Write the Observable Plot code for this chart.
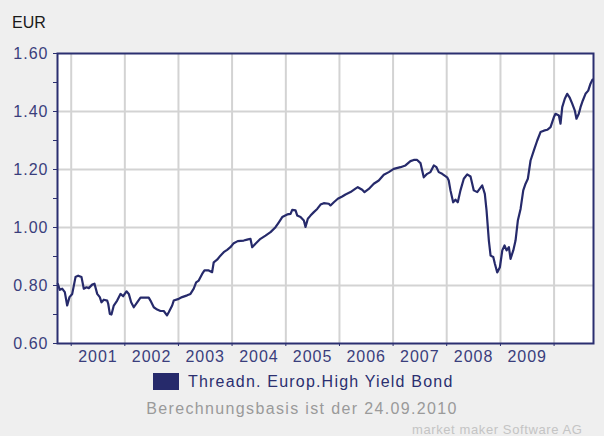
<!DOCTYPE html>
<html><head><meta charset="utf-8">
<script src="https://cdn.jsdelivr.net/npm/d3@7"></script>
<script src="https://cdn.jsdelivr.net/npm/@observablehq/plot@0.6"></script>
<style>
body{margin:0;background:#efefef;font-family:"Liberation Sans",Arial,sans-serif;}
#wrap{position:relative;width:604px;height:436px;overflow:hidden;background:#efefef;}
#chart{position:absolute;left:0;top:0;}
.t{position:absolute;white-space:nowrap;}
#eur{left:12px;top:15px;font-size:16px;line-height:16px;color:#1a1a1a;}
#legsw{left:153px;top:373px;width:26px;height:17px;background:#262a6b;}
#legtx{left:188px;top:374px;font-size:16px;line-height:16px;color:#2b2f70;letter-spacing:1.2px;}
#cap{left:0;width:604px;text-align:center;top:400.5px;font-size:16px;line-height:16px;color:#9a9a9a;letter-spacing:1.35px;}
#mm{left:412px;top:423px;font-size:13px;line-height:13px;color:#c4c4c4;letter-spacing:0.6px;}
</style></head>
<body>
<div id="wrap">
<div id="chart"></div>
<div class="t" id="eur">EUR</div>
<div class="t" id="legsw"></div>
<div class="t" id="legtx">Threadn. Europ.High Yield Bond</div>
<div class="t" id="cap">Berechnungsbasis ist der 24.09.2010</div>
<div class="t" id="mm">market maker Software AG</div>
</div>
<script>
// decimal years
const times = [
2000.750,2000.788,2000.832,2000.881,2000.925,2000.968,2001.019,2001.080,2001.130,2001.192,
2001.235,2001.285,2001.328,2001.391,2001.434,2001.485,2001.533,2001.565,2001.608,2001.671,
2001.690,2001.720,2001.751,2001.794,2001.857,2001.919,2001.969,2002.031,2002.074,2002.118,
2002.167,2002.230,2002.292,2002.446,2002.478,2002.540,2002.603,2002.665,2002.726,2002.786,
2002.819,2002.883,2002.912,2003.006,2003.069,2003.162,2003.224,2003.285,2003.330,2003.378,
2003.442,2003.485,2003.565,2003.628,2003.658,2003.721,2003.783,2003.844,2003.908,2003.969,
2004.031,2004.105,2004.217,2004.280,2004.342,2004.374,2004.435,2004.528,2004.622,2004.715,
2004.808,2004.870,2004.933,2005.026,2005.088,2005.119,2005.181,2005.213,2005.274,2005.336,
2005.367,2005.410,2005.460,2005.522,2005.585,2005.647,2005.708,2005.801,2005.833,2005.895,
2005.969,2006.051,2006.113,2006.206,2006.299,2006.342,2006.424,2006.467,2006.547,2006.640,
2006.733,2006.827,2006.920,2007.013,2007.138,2007.231,2007.324,2007.386,2007.449,2007.511,
2007.572,2007.636,2007.697,2007.759,2007.809,2007.852,2007.915,2008.008,2008.038,2008.070,
2008.120,2008.163,2008.206,2008.256,2008.318,2008.381,2008.443,2008.504,2008.568,2008.661,
2008.709,2008.741,2008.784,2008.816,2008.866,2008.896,2008.940,2008.989,2009.034,2009.076,
2009.114,2009.157,2009.188,2009.239,2009.281,2009.324,2009.375,2009.425,2009.468,2009.511,
2009.561,2009.623,2009.686,2009.747,2009.809,2009.872,2009.934,2009.995,2010.027,2010.089,
2010.120,2010.152,2010.200,2010.245,2010.288,2010.338,2010.387,2010.417,2010.461,2010.493,
2010.536,2010.586,2010.637,2010.679,2010.717
];
const values = [
0.806,0.785,0.789,0.777,0.731,0.760,0.771,0.829,0.834,0.829,
0.789,0.794,0.791,0.803,0.806,0.771,0.760,0.742,0.751,0.748,
0.737,0.702,0.700,0.731,0.748,0.771,0.763,0.780,0.771,0.742,
0.725,0.742,0.758,0.758,0.748,0.725,0.717,0.712,0.712,0.697,
0.708,0.731,0.748,0.754,0.760,0.766,0.771,0.789,0.811,0.817,
0.840,0.852,0.852,0.846,0.880,0.889,0.903,0.915,0.923,0.932,
0.946,0.953,0.955,0.958,0.961,0.932,0.944,0.961,0.972,0.984,
1.001,1.018,1.036,1.045,1.047,1.061,1.059,1.041,1.036,1.024,
1.002,1.030,1.041,1.053,1.064,1.079,1.084,1.082,1.076,1.087,
1.099,1.107,1.114,1.122,1.134,1.139,1.130,1.122,1.133,1.151,
1.162,1.182,1.191,1.202,1.208,1.214,1.229,1.233,1.233,1.222,
1.173,1.185,1.191,1.214,1.208,1.191,1.185,1.173,1.162,1.128,
1.087,1.096,1.087,1.128,1.168,1.183,1.176,1.128,1.122,1.145,
1.116,1.059,0.955,0.903,0.898,0.875,0.845,0.863,0.921,0.938,
0.921,0.932,0.892,0.921,0.955,1.024,1.064,1.128,1.151,1.168,
1.231,1.266,1.300,1.329,1.334,1.337,1.346,1.380,1.392,1.386,
1.358,1.415,1.444,1.461,1.449,1.427,1.403,1.375,1.392,1.415,
1.438,1.461,1.472,1.496,1.510
];
const yearLabels = ["2001","2002","2003","2004","2005","2006","2007","2008","2009"];
const yearBounds = [2001,2002,2003,2004,2005,2006,2007,2008,2009,2010];
const yMajor = [0.6,0.8,1.0,1.2,1.4,1.6];
const yMinor = [0.7,0.9,1.1,1.3,1.5];
const yGrid = [0.8,1.0,1.2,1.4];
const xStart = 2000.745, xEnd = 2010.735;

function toDate(t){
  const y = Math.floor(t);
  const a = Date.UTC(y,0,1), b = Date.UTC(y+1,0,1);
  return new Date(a + (t - y) * (b - a));
}
const data = times.map((t,i)=>({date: toDate(t), value: values[i]}));
const bounds = yearBounds.map(y => new Date(Date.UTC(y,0,1)));
const mids = yearLabels.map(s => new Date(Date.UTC(+s,6,2)));

const navy = "#2b2f70";
const chart = Plot.plot({
  width: 604,
  height: 370,
  marginLeft: 57,
  marginRight: 11,
  marginTop: 53,
  marginBottom: 27,
  style: {background: "transparent", fontFamily: "'Liberation Sans', Arial, sans-serif", fontSize: "16px", letterSpacing: "1px", overflow: "visible"},
  x: {type: "utc", domain: [toDate(xStart), toDate(xEnd)]},
  y: {domain: [0.6, 1.6]},
  marks: [
    Plot.frame({fill: "white", stroke: "none"}),
    Plot.gridX(bounds, {stroke: "#d3d3d3", strokeOpacity: 1, strokeWidth: 2}),
    Plot.gridY(yGrid, {stroke: "#d3d3d3", strokeOpacity: 1, strokeWidth: 2}),
    Plot.line(data, {x: "date", y: "value", stroke: "#262a6b", strokeWidth: 2.2, strokeLinejoin: "round"}),
    Plot.frame({stroke: navy, strokeWidth: 2}),
    Plot.axisY(yMajor, {tickSize: 4, tickPadding: 5, stroke: navy, fill: "#3a3e7c", tickFormat: d => d.toFixed(2), label: null, fontSize: 16}),
    Plot.axisY(yMinor, {tickSize: 4, stroke: navy, tickFormat: () => "", label: null}),
    Plot.axisX(bounds, {tickSize: 3, stroke: navy, tickFormat: () => "", label: null}),
    Plot.axisX(mids, {tickSize: 0, tickPadding: 7, fill: "#3a3e7c", tickFormat: d => String(d.getUTCFullYear()), label: null, fontSize: 16})
  ]
});
document.getElementById("chart").appendChild(chart);
</script>
</body></html>
